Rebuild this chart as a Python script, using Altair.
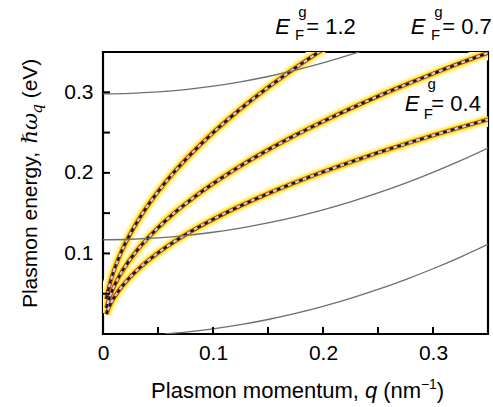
import altair as alt
import pandas as pd

# ---- data ----
Q_P = [0.003, 0.006, 0.01, 0.015, 0.02, 0.03, 0.04, 0.05, 0.065, 0.08, 0.1,
       0.125, 0.15, 0.175, 0.2, 0.225, 0.25, 0.275, 0.3, 0.325, 0.35]
E_12 = [0.0433, 0.0612, 0.079, 0.0968, 0.1117, 0.1368, 0.158, 0.1766, 0.2015,
        0.2234, 0.2498, 0.2793, 0.306, 0.3305, 0.3533]
E_07 = [0.0323, 0.0457, 0.059, 0.0723, 0.0834, 0.1022, 0.118, 0.1319, 0.1505,
        0.1669, 0.1866, 0.2086, 0.2285, 0.2468, 0.2638, 0.2798, 0.295, 0.3094,
        0.3231, 0.3364, 0.349]
E_04 = [0.0247, 0.0349, 0.045, 0.0551, 0.0636, 0.0779, 0.09, 0.1006, 0.1148,
        0.1273, 0.1423, 0.1591, 0.1743, 0.1882, 0.2012, 0.2134, 0.225, 0.236,
        0.2465, 0.2565, 0.2662]

Q_G = [0, 0.025, 0.05, 0.075, 0.1, 0.125, 0.15, 0.175, 0.2, 0.225, 0.25,
       0.275, 0.3, 0.325, 0.35]
G_TOP = [0.298, 0.2986, 0.3004, 0.3034, 0.3076, 0.313, 0.3196, 0.3274, 0.3364,
         0.3466, 0.358]
G_MID = [0.117, 0.1176, 0.1193, 0.1222, 0.1263, 0.1315, 0.1379, 0.1455, 0.1542,
         0.1641, 0.1751, 0.1873, 0.2007, 0.2152, 0.2309]
Q_B = [0.056, 0.075, 0.1, 0.125, 0.15, 0.175, 0.2, 0.225, 0.25, 0.275, 0.3,
       0.325, 0.35]
G_BOT = [0.0, 0.0023, 0.0064, 0.0116, 0.018, 0.0256, 0.0344, 0.0443, 0.0553,
         0.0676, 0.081, 0.0955, 0.1112]

X_TICKS = [0.05, 0.1, 0.15, 0.2, 0.25, 0.3]
Y_TICKS = [0.05, 0.1, 0.15, 0.2, 0.25, 0.3]
X_LABELS = [0, 0.1, 0.2, 0.3]
Y_LABELS = [0.1, 0.2, 0.3]
EF_VALUES = ["1.2", "0.7", "0.4"]

# annotation anchor positions (data coordinates)
ANN_E_Q = [0.1565, 0.2798, 0.2744]
ANN_E_Y = [0.3725, 0.3725, 0.2772]
ANN_SUP_Q = [0.1775, 0.3011, 0.2950]
ANN_SUP_Y = [0.3940, 0.3940, 0.3035]
ANN_SUB_Q = [0.1745, 0.2981, 0.2915]
ANN_SUB_Y = [0.3655, 0.3655, 0.2665]
ANN_VAL_Q = [0.1848, 0.3084, 0.2985]

FONT = "Liberation Sans"

# ---- tables ----
rows = []
for name, qs, es in [("1.2", Q_P[:len(E_12)], E_12), ("0.7", Q_P, E_07), ("0.4", Q_P, E_04)]:
    for i, (a, b) in enumerate(zip(qs, es)):
        rows.append(dict(curve=name, q=a, E=b, order=i))
plasmon = pd.DataFrame(rows)

grows = []
for name, qs, es in [("top", Q_G[:len(G_TOP)], G_TOP), ("mid", Q_G, G_MID), ("bot", Q_B, G_BOT)]:
    for i, (a, b) in enumerate(zip(qs, es)):
        grows.append(dict(curve=name, q=a, E=b, order=i))
gray = pd.DataFrame(grows)

xt = pd.DataFrame({"q": X_TICKS})
yt = pd.DataFrame({"E": Y_TICKS})

ann_E = pd.DataFrame({"q": ANN_E_Q, "E": ANN_E_Y, "t": ["E"] * 3})
ann_sup = pd.DataFrame({"q": ANN_SUP_Q, "E": ANN_SUP_Y, "t": ["g"] * 3})
ann_sub = pd.DataFrame({"q": ANN_SUB_Q, "E": ANN_SUB_Y, "t": ["F"] * 3})
ann_val = pd.DataFrame({"q": ANN_VAL_Q, "E": ANN_E_Y, "t": ["= " + v for v in EF_VALUES]})

# axis-title pieces
xt1 = pd.DataFrame({"q": [0.2327], "E": [-0.079], "t": ["Plasmon momentum,"]})
xt2 = pd.DataFrame({"q": [0.2381], "E": [-0.079], "t": ["q"]})
xt3 = pd.DataFrame({"q": [0.2547], "E": [-0.079], "t": ["(nm"]})
xt4 = pd.DataFrame({"q": [0.2890], "E": [-0.068], "t": ["\u22121"]})
xt5 = pd.DataFrame({"q": [0.3035], "E": [-0.079], "t": [")"]})
yt1 = pd.DataFrame({"q": [-0.0601], "E": [0.0322], "t": ["Plasmon energy,"]})
yt2 = pd.DataFrame({"q": [-0.0601], "E": [0.2365], "t": ["\u210f\u03c9"]})
yt3 = pd.DataFrame({"q": [-0.0555], "E": [0.2735], "t": ["q"]})
yt4 = pd.DataFrame({"q": [-0.0601], "E": [0.2925], "t": ["(eV)"]})

xs = alt.Scale(domain=[0, 0.35], nice=False, zero=False)
ys = alt.Scale(domain=[0, 0.35], nice=False, zero=False)
xaxis = alt.Axis(values=X_LABELS, format=".1~f", ticks=False, domain=False, grid=False,
                 labelFontSize=21, labelPadding=8, labelFont=FONT, labelColor="black",
                 labelFlush=False)
yaxis = alt.Axis(values=Y_LABELS, format=".1f", ticks=False, domain=False, grid=False,
                 labelFontSize=21, labelPadding=10, labelFont=FONT, labelColor="black")
X = alt.X("q:Q", scale=xs, axis=xaxis, title=None)
Y = alt.Y("E:Q", scale=ys, axis=yaxis, title=None)


def plas(width, color, dash=None, opacity=1.0):
    kw = dict(strokeWidth=width, color=color, clip=True, interpolate="monotone",
              opacity=opacity, strokeCap="butt")
    if dash:
        kw["strokeDash"] = dash
    return alt.Chart(plasmon).mark_line(**kw).encode(x=X, y=Y, detail="curve:N", order="order:Q")


glow = [
    plas(14, "#fffdf2"),
    plas(11.5, "#fff9cc"),
    plas(9, "#fff286"),
    plas(6.5, "#ffe424"),
    plas(4.4, "#f7a400"),
    plas(3.5, "#9a1600"),
    plas(2.3, "#cfcfcf"),
    plas(2.3, "#141414", dash=[4, 4]),
]

gray_lines = alt.Chart(gray).mark_line(color="#6e6e6e", strokeWidth=1.3, clip=True,
                                        interpolate="monotone").encode(
    x=X, y=Y, detail="curve:N", order="order:Q")

xticks = alt.Chart(xt).mark_rule(color="black", strokeWidth=2).encode(
    x=X, y=alt.value(282), y2=alt.value(275))
yticks = alt.Chart(yt).mark_rule(color="black", strokeWidth=2).encode(
    y=Y, x=alt.value(0), x2=alt.value(7))


def txt(df, size, align="left", style="normal", angle=0, font=FONT):
    kw = dict(fontSize=size, align=align, baseline="alphabetic", font=font,
              color="black", fontStyle=style)
    if angle:
        kw["angle"] = angle
    return alt.Chart(df).mark_text(**kw).encode(x=X, y=Y, text="t:N")


texts = [
    txt(ann_E, 22, style="italic"),
    txt(ann_sup, 15),
    txt(ann_sub, 15),
    txt(ann_val, 22),
    txt(xt1, 22, align="right"),
    txt(xt2, 22, style="italic"),
    txt(xt3, 22),
    txt(xt4, 14),
    txt(xt5, 22),
    txt(yt1, 21, angle=270),
    txt(yt2, 21, style="italic", angle=270, font="DejaVu Serif"),
    txt(yt3, 15, style="italic", angle=270, font="DejaVu Serif"),
    txt(yt4, 21, angle=270),
]

chart = alt.layer(*glow, gray_lines, xticks, yticks, *texts).properties(
    width=385, height=282,
    padding={"left": 103, "top": 52, "right": 5, "bottom": 73},
    autosize=alt.AutoSizeParams(type="none"),
).configure_view(stroke="black", strokeWidth=2.2)

chart.save("out.html", embed_options={"renderer": "svg", "actions": False})
